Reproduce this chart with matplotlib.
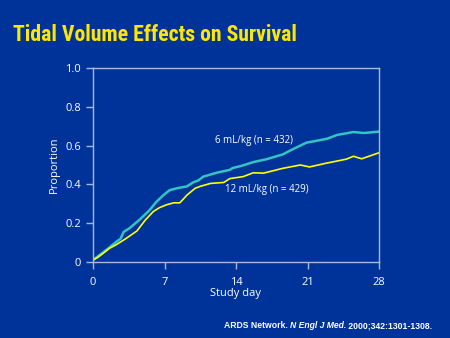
import matplotlib
matplotlib.use('Agg')
import matplotlib.pyplot as plt

# survival curves (day, proportion)
days_6 = [0, 0.5, 1, 1.5, 2.3, 2.7, 3.0, 3.6, 4.6, 5.5, 6.2, 6.9, 7.5, 8.2, 9.2, 9.8, 10.3, 10.8,
          12.1, 13.4, 13.7, 14.5, 15.7, 17.0, 18.6, 19.5, 20.9, 22.9, 23.9, 25.5, 26.5, 28]
prop_6 = [0.01, 0.03, 0.05, 0.07, 0.105, 0.12, 0.155, 0.175, 0.22, 0.265, 0.31, 0.345, 0.37, 0.38, 0.39,
          0.41, 0.42, 0.44, 0.46, 0.475, 0.485, 0.495, 0.515, 0.53, 0.555, 0.58, 0.615, 0.635, 0.655,
          0.67, 0.665, 0.672]

days_12 = [0, 0.5, 1, 1.6, 2.3, 3.2, 4.3, 5.1, 5.9, 6.5, 7.2, 7.9, 8.5, 9.2, 10.0, 10.5, 11.5, 12.8,
           13.4, 14.7, 15.7, 16.7, 18.6, 20.3, 21.2, 22.9, 24.8, 25.5, 26.3, 28]
prop_12 = [0.01, 0.025, 0.045, 0.07, 0.09, 0.12, 0.16, 0.215, 0.26, 0.28, 0.295, 0.305, 0.305, 0.345,
           0.38, 0.39, 0.405, 0.41, 0.43, 0.44, 0.46, 0.458, 0.483, 0.5, 0.49, 0.51, 0.53,
           0.545, 0.532, 0.563]

x_ticks = [0, 7, 14, 21, 28]
y_ticks = [0, 0.2, 0.4, 0.6, 0.8, 1.0]
y_labels = ['0', '0.2', '0.4', '0.6', '0.8', '1.0']

bg = '#003399'
frame = '#a9b8de'
font = ['Open Sans', 'DejaVu Sans']

fig = plt.figure(figsize=(4.5, 3.38), dpi=100, facecolor=bg)
ax = fig.add_axes([93 / 450, 1 - 262 / 338, 286 / 450, 194 / 338], facecolor=bg)

ax.plot(days_6, prop_6, color='#33c4c4', lw=1.8)
ax.plot(days_12, prop_12, color='#ffff00', lw=1.2)

ax.set_xlim(0, 28)
ax.set_ylim(0, 1.0)
ax.set_xticks(x_ticks)
ax.set_yticks(y_ticks)
ax.set_yticklabels(y_labels)
for s in ax.spines.values():
    s.set_color(frame)
    s.set_linewidth(1)
ax.tick_params(colors=frame, length=5, width=1, labelcolor='white', labelsize=8)
ax.tick_params(axis='x', pad=6)
for lab in ax.get_xticklabels() + ax.get_yticklabels():
    lab.set_family(font)

ax.set_xlabel('Study day', color='white', fontsize=8, family=font, labelpad=0)
ax.set_ylabel('Proportion', color='white', fontsize=8, family=font, labelpad=4)

ax.text(11.9, 0.625, '6 mL/kg (n = 432)', color='white', fontsize=7, family=font, va='center')
ax.text(12.9, 0.375, '12 mL/kg (n = 429)', color='white', fontsize=7, family=font, va='center')

fig.text(13 / 450, 1 - 35 / 338, 'Tidal Volume Effects on Survival', color='#ffe600', fontsize=15.7,
         fontweight='bold', family=['Roboto Condensed', 'Roboto', 'DejaVu Sans'],
         va='center', ha='left')

cite_y = 1 - 326 / 338
cfont = ['Liberation Sans', 'DejaVu Sans']
t1 = fig.text(224 / 450, cite_y, 'ARDS Network. ', color='white', fontsize=6.25,
              fontweight='bold', family=cfont, va='center')
t2 = fig.text(0, cite_y, 'N Engl J Med.', color='white', fontsize=6.25, fontweight='bold',
              fontstyle='italic', family=cfont, va='center')
t3 = fig.text(0, cite_y, ' 2000;342:1301-1308.', color='white', fontsize=6.25, fontweight='bold',
              family=cfont, va='center')
fig.canvas.draw()
r = fig.canvas.get_renderer()
inv = fig.transFigure.inverted()
t2.set_x(inv.transform((t1.get_window_extent(r).x1, 0))[0])
fig.canvas.draw()
t3.set_x(inv.transform((t2.get_window_extent(r).x1, 0))[0])

fig.savefig('out.png', dpi=100, facecolor=bg)
